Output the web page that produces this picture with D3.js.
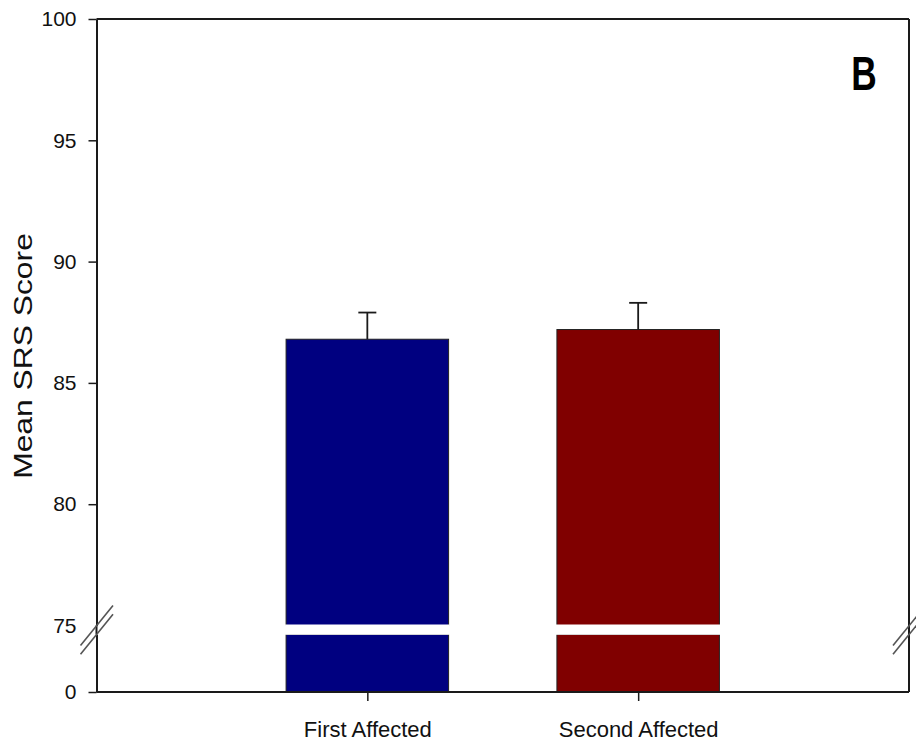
<!DOCTYPE html>
<html>
<head>
<meta charset="utf-8">
<script src="https://cdn.jsdelivr.net/npm/d3@7"></script>
<style>
  html, body { margin: 0; padding: 0; background: #fff; }
  svg { display: block; font-family: "Liberation Sans", Arial, sans-serif; }
</style>
</head>
<body>
<svg id="chart" width="916" height="746"></svg>
<script>
// Data
const categories = ["First Affected", "Second Affected"];
const means = [86.8, 87.2];
const errors = [1.1, 1.1];
const barColors = ["#000080", "#800000"];
const upperTicks = [75, 80, 85, 90, 95, 100];
const lowerTicks = [0];
const panelLabel = "B";
const yTitle = "Mean SRS Score";

const svg = d3.select("#chart");
const plotLeft = 96.5, plotRight = 909, plotTop = 19, plotBottom = 692;
const upperBottom = 625.5, lowerTop = 634.3;

// Broken y axis: upper segment 75–100, lower segment 0–75
const yUpper = d3.scaleLinear().domain([75, 100]).range([upperBottom, plotTop]);
const yLower = d3.scaleLinear().domain([0, 75]).range([plotBottom, lowerTop]);

const x = d3.scalePoint().domain(categories).range([plotLeft, plotRight]).padding(1);
const barW = x.step() * 0.6;

const ink = "#1a1a1a";

// Bars (lower and upper pieces)
const bars = svg.append("g");
categories.forEach((c, i) => {
  const x0 = x(c) - barW / 2;
  bars.append("rect")
    .attr("x", x0).attr("width", barW)
    .attr("y", yLower(75)).attr("height", yLower(0) - yLower(75))
    .attr("fill", barColors[i]).attr("stroke", "#222").attr("stroke-width", 1);
  bars.append("rect")
    .attr("x", x0).attr("width", barW)
    .attr("y", yUpper(means[i])).attr("height", yUpper(75) - yUpper(means[i]))
    .attr("fill", barColors[i]).attr("stroke", "#222").attr("stroke-width", 1);
  // upward error bar
  const cx = x(c);
  bars.append("line")
    .attr("x1", cx).attr("x2", cx)
    .attr("y1", yUpper(means[i])).attr("y2", yUpper(means[i] + errors[i]))
    .attr("stroke", ink).attr("stroke-width", 1.8);
  bars.append("line")
    .attr("x1", cx - 9).attr("x2", cx + 9)
    .attr("y1", yUpper(means[i] + errors[i])).attr("y2", yUpper(means[i] + errors[i]))
    .attr("stroke", ink).attr("stroke-width", 1.8);
});

// Frame: top and right borders
svg.append("line").attr("x1", plotLeft).attr("x2", plotRight).attr("y1", plotTop).attr("y2", plotTop)
  .attr("stroke", ink).attr("stroke-width", 2);
svg.append("line").attr("x1", plotRight).attr("x2", plotRight).attr("y1", plotTop).attr("y2", plotBottom)
  .attr("stroke", ink).attr("stroke-width", 2);

// Y axes
function styleAxis(g) {
  g.select(".domain").attr("stroke", ink).attr("stroke-width", 2);
  g.selectAll(".tick line").attr("stroke", ink).attr("stroke-width", 1.5);
  g.selectAll(".tick text").attr("fill", "#111")
    .style("font-family", "'Liberation Sans', Arial, sans-serif").style("font-size", "21px");
}
const gyU = svg.append("g").attr("transform", `translate(${plotLeft},0)`)
  .call(d3.axisLeft(yUpper).tickValues(upperTicks).tickSize(8).tickSizeOuter(0).tickPadding(12))
  .call(styleAxis);
gyU.selectAll(".tick").filter(d => d === 75).select("line").remove();
const gyL = svg.append("g").attr("transform", `translate(${plotLeft},0)`)
  .call(d3.axisLeft(yLower).tickValues(lowerTicks).tickSize(8).tickSizeOuter(0).tickPadding(12))
  .call(styleAxis);
// join axis pieces through the break
svg.append("line").attr("x1", plotLeft).attr("x2", plotLeft).attr("y1", upperBottom).attr("y2", lowerTop)
  .attr("stroke", ink).attr("stroke-width", 2);

// X axis
const gx = svg.append("g").attr("transform", `translate(0,${plotBottom})`)
  .call(d3.axisBottom(x).tickSize(9).tickSizeOuter(0).tickPadding(20));
gx.select(".domain").attr("d", `M${plotLeft},0H${plotRight}`).attr("stroke", ink).attr("stroke-width", 2);
gx.selectAll(".tick line").attr("stroke", ink).attr("stroke-width", 1.5);
gx.selectAll(".tick text").attr("fill", "#111")
  .style("font-family", "'Liberation Sans', Arial, sans-serif").style("font-size", "22px");

// Break marks: white band across bars and double slashes on both axes
categories.forEach(c => {
  svg.append("rect").attr("x", x(c) - barW / 2 - 1).attr("width", barW + 2)
    .attr("y", upperBottom - 1).attr("height", lowerTop - upperBottom + 1.5).attr("fill", "#fff");
});
[plotLeft, plotRight].forEach(ax => {
  [upperBottom, lowerTop].forEach(yc => {
    svg.append("line")
      .attr("x1", ax - 16).attr("y1", yc + 20)
      .attr("x2", ax + 16.5).attr("y2", yc - 20)
      .attr("stroke", "#555").attr("stroke-width", 1.6);
  });
});

// Axis title
svg.append("text")
  .attr("transform", `translate(32,356) rotate(-90) scale(1.2,1)`)
  .attr("text-anchor", "middle")
  .style("font-size", "26.5px").attr("fill", "#111")
  .text(yTitle);

// Panel label
svg.append("text")
  .attr("transform", "translate(864,90) scale(0.72,1)")
  .attr("text-anchor", "middle")
  .style("font-size", "49px").style("font-weight", "bold").attr("fill", "#000")
  .text(panelLabel);
</script>
</body>
</html>
